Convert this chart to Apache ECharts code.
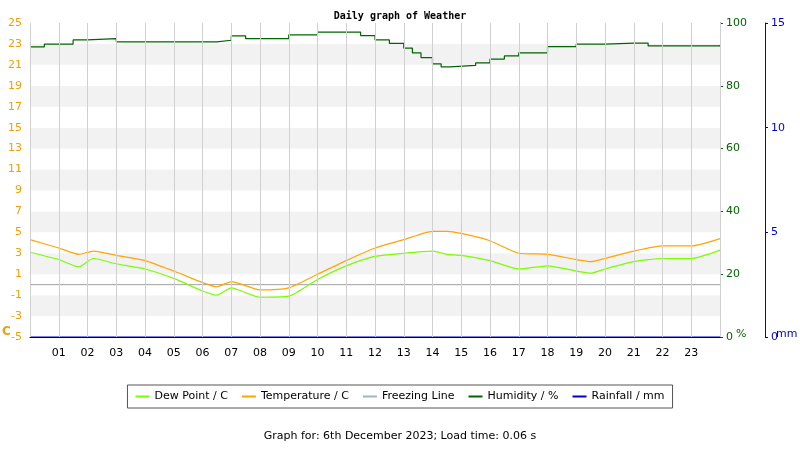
<!DOCTYPE html>
<html>
<head>
<meta charset="utf-8">
<script src="https://cdn.jsdelivr.net/npm/echarts@6/dist/echarts.min.js"></script>
<style>html,body{margin:0;padding:0;background:#fff}#main{width:800px;height:450px}</style>
</head>
<body>
<div id="main"></div>
<script>
// hours and readings
var hours = [0, 1, 1.7, 2.2, 3, 4, 5, 6, 6.5, 7, 8, 9, 10, 11, 12, 13, 14, 14.5, 15, 16, 17, 18, 19, 19.5, 20, 21, 22, 23, 24];
var temperature = [4.3, 3.5, 2.9, 3.2, 2.8, 2.3, 1.3, 0.2, -0.2, 0.3, -0.5, -0.3, 1.0, 2.3, 3.5, 4.3, 5.1, 5.1, 4.9, 4.2, 3.0, 2.9, 2.4, 2.2, 2.5, 3.2, 3.7, 3.7, 4.4];
var dewPoint = [3.1, 2.4, 1.7, 2.5, 2.0, 1.5, 0.6, -0.6, -1.0, -0.3, -1.2, -1.1, 0.5, 1.8, 2.7, 3.0, 3.2, 2.9, 2.8, 2.3, 1.5, 1.8, 1.3, 1.1, 1.5, 2.2, 2.5, 2.5, 3.3];
var humHours = [0, 0.5, 1.5, 2, 3, 5, 6.5, 7, 7.5, 8, 9, 10, 11, 11.5, 12, 12.5, 13, 13.3, 13.6, 14, 14.3, 14.6, 15.5, 16, 16.5, 17, 18, 19, 20, 21, 21.5, 23, 24];
var humidity = [92.4, 93.3, 94.6, 95.0, 94.0, 94.0, 94.5, 95.9, 95.0, 95.0, 96.2, 97.1, 97.1, 96.0, 94.6, 93.5, 92.0, 90.5, 89.0, 87.0, 86.0, 86.5, 87.3, 88.5, 89.5, 90.5, 92.5, 93.3, 93.6, 93.6, 92.7, 92.7, 93.0];
var rainfall = [0, 0];
var OFF = 5; // left axis starts at -5

function pairs(xs, ys, shift) {
	return xs.map(function(x, i) { return [x, ys[i] + shift]; });
}

var chart = echarts.init(document.getElementById('main'));
var font = 'DejaVu Sans';
chart.setOption({
	animation: false,
	textStyle: { fontFamily: font },
	title: {
		text: 'Daily graph of Weather',
		left: 'center',
		top: 6,
		textStyle: { fontFamily: 'DejaVu Sans Mono', fontSize: 10, fontWeight: 'bold', color: '#000' }
	},
	legend: {
		bottom: 42,
		left: 'center',
		itemWidth: 14,
		itemHeight: 2,
		itemGap: 14,
		borderColor: '#555',
		borderWidth: 1,
		padding: [6, 8],
		icon: 'rect',
		textStyle: { fontSize: 11, color: '#000' },
		data: ['Dew Point / C', 'Temperature / C', 'Freezing Line', 'Humidity / %', 'Rainfall / mm']
	},
	graphic: [
		{ type: 'text', left: 'center', top: 431, style: { text: 'Graph for: 6th December 2023; Load time: 0.06 s', fontSize: 11, fill: '#000', fontFamily: font } },
		{ type: 'text', left: 2, top: 326, style: { text: 'C', fontSize: 12, fill: '#f0a000', fontWeight: 'bold', fontFamily: font } },
		{ type: 'text', left: 736, top: 329, style: { text: '%', fontSize: 11, fill: '#006400', fontFamily: font } },
		{ type: 'text', left: 776, top: 329, style: { text: 'mm', fontSize: 11, fill: '#0000cc', fontFamily: font } }
	],
	grid: { left: 30, right: 80, top: 23, bottom: 113 },
	xAxis: {
		type: 'value', min: 0, max: 24, interval: 1, z: 10,
		axisLine: { lineStyle: { color: '#000' } },
		axisTick: { show: false },
		axisLabel: {
			fontSize: 11, color: '#000', margin: 11,
			formatter: function(v) { return (v === 0 || v === 24) ? '' : (v < 10 ? '0' + v : '' + v); }
		},
		splitLine: { show: true, lineStyle: { color: '#d0d0d0' } }
	},
	yAxis: [{
		type: 'value', min: 0, max: 30, interval: 2,
		axisLine: { show: false },
		axisTick: { show: false },
		axisLabel: { fontSize: 11, color: '#f0a000', margin: 8, formatter: function(v) { return v - OFF; } },
		splitLine: { show: false },
		splitArea: { show: true, areaStyle: { color: ['#ffffff', '#f2f2f2'] } }
	}, {
		type: 'value', min: 0, max: 100, interval: 20, position: 'right',
		axisLine: { show: true, lineStyle: { color: '#006400' } },
		axisTick: { show: true, length: 3 },
		axisLabel: { fontSize: 11, color: '#006400', margin: 6 },
		splitLine: { show: false }
	}, {
		type: 'value', min: 0, max: 15, interval: 5, position: 'right', offset: 45,
		axisLine: { show: true, lineStyle: { color: '#0000cc' } },
		axisTick: { show: true, length: 3 },
		axisLabel: { fontSize: 11, color: '#0000cc', margin: 6 },
		splitLine: { show: false }
	}],
	series: [{
		name: 'Freezing Line', type: 'line', yAxisIndex: 0, symbol: 'none', color: '#a0b4c8',
		lineStyle: { width: 1, color: '#a0a0a0' },
		data: [[0, OFF], [24, OFF]]
	}, {
		name: 'Dew Point / C', type: 'line', yAxisIndex: 0, symbol: 'none', smooth: 0.2, color: '#7cfc00',
		lineStyle: { width: 1.2 },
		data: pairs(hours, dewPoint, OFF)
	}, {
		name: 'Temperature / C', type: 'line', yAxisIndex: 0, symbol: 'none', smooth: 0.2, color: '#ffa500',
		lineStyle: { width: 1.2 },
		data: pairs(hours, temperature, OFF)
	}, {
		name: 'Humidity / %', type: 'line', yAxisIndex: 1, symbol: 'none', step: 'end', color: '#006400',
		lineStyle: { width: 1.2 },
		data: pairs(humHours, humidity, 0)
	}, {
		name: 'Rainfall / mm', type: 'line', yAxisIndex: 2, symbol: 'none', color: '#0000cc', z: 1,
		lineStyle: { width: 1 },
		data: pairs([0, 24], rainfall, 0)
	}]
});
</script>
</body>
</html>
